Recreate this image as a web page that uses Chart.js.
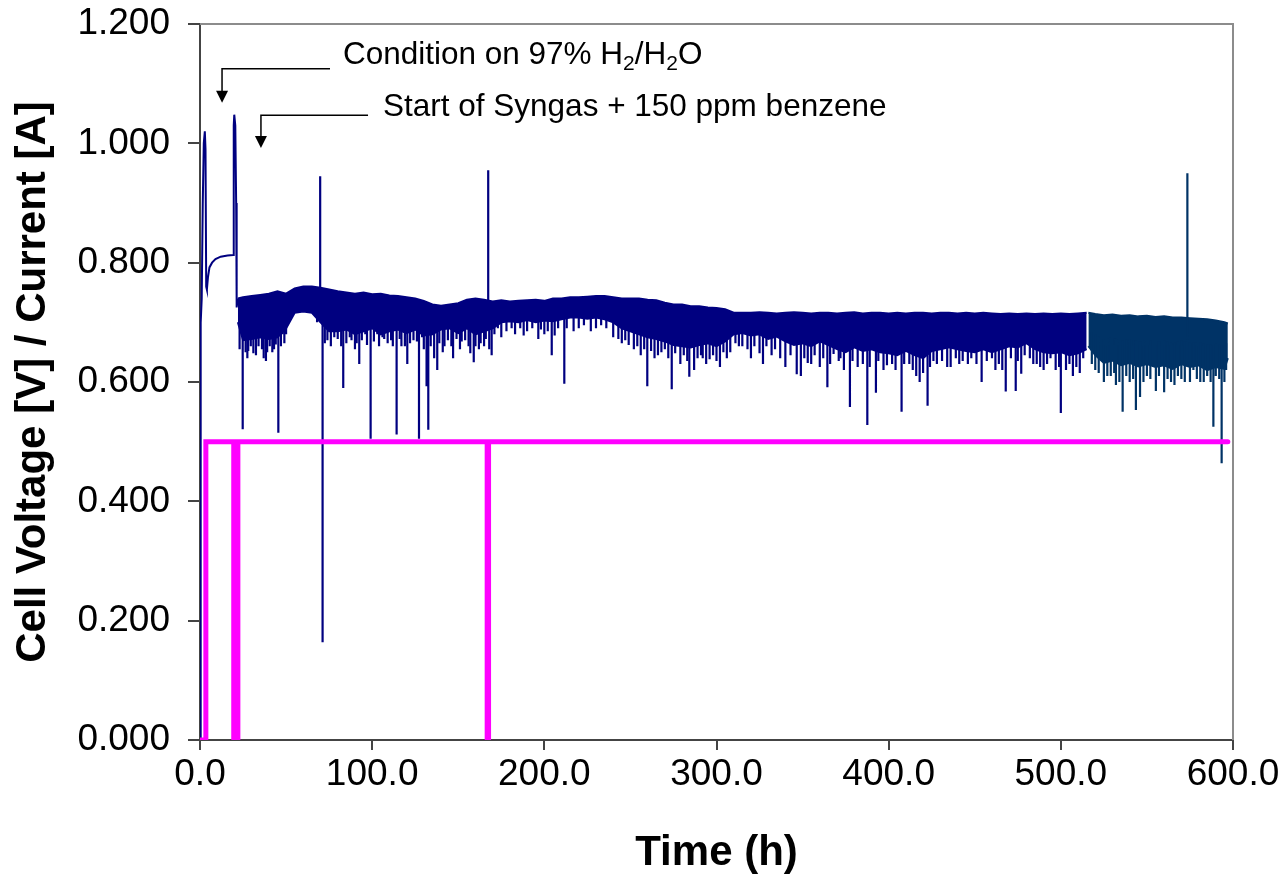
<!DOCTYPE html>
<html>
<head>
<meta charset="utf-8">
<script src="https://cdn.jsdelivr.net/npm/chart.js@4.4.0/dist/chart.umd.min.js"></script>
<style>
  html, body { margin: 0; padding: 0; background: #fff; }
</style>
</head>
<body>
<canvas id="chartVolt" width="1285" height="874"></canvas>
<script>
// current (A)
const currentT = [0, 3.4, 3.4, 19.6, 19.6, 22.0, 22.0, 166.8, 166.8, 167.6, 167.6, 597];
const currentA = [0, 0, 0.5, 0.5, 0, 0, 0.5, 0.5, 0, 0, 0.5, 0.5];

// start-up voltage before the noisy band
const earlyT = [0.1, 0.4, 1.0, 1.6, 2.2, 2.8, 3.2, 3.6, 4.0, 4.6, 5.5, 7.0, 9.0, 12.0, 16.0, 19.3, 19.6, 19.9, 20.5, 21.0, 21.3, 22.0];
const earlyV = [0.0, 0.70, 0.74, 0.90, 1.00, 1.02, 0.99, 0.76, 0.755, 0.775, 0.792, 0.800, 0.806, 0.810, 0.812, 0.813, 1.030, 1.048, 1.030, 0.900, 0.725, 0.740];

// voltage band (upper / lower edge), first logger file
const bandT = [22, 25, 30, 35, 40, 45, 50, 55, 60, 65,
  70, 75, 80, 85, 90, 95, 100, 105, 110, 115,
  120, 125, 130, 135, 140, 145, 150, 155, 160, 165,
  170, 175, 180, 185, 190, 195, 200, 205, 210, 215,
  220, 225, 230, 235, 240, 245, 250, 255, 260, 265,
  270, 275, 280, 285, 290, 295, 300, 305, 310, 315,
  320, 325, 330, 335, 340, 345, 350, 355, 360, 365,
  370, 375, 380, 385, 390, 395, 400, 405, 410, 415,
  420, 425, 430, 435, 440, 445, 450, 455, 460, 465,
  470, 475, 480, 485, 490, 495, 500, 505, 510, 515];
const bandUpper = [0.740, 0.742, 0.744, 0.746, 0.748, 0.752, 0.748, 0.757, 0.760, 0.760,
  0.758, 0.755, 0.752, 0.750, 0.748, 0.750, 0.747, 0.748, 0.745, 0.744,
  0.742, 0.740, 0.736, 0.730, 0.728, 0.730, 0.732, 0.738, 0.740, 0.738,
  0.735, 0.737, 0.735, 0.736, 0.737, 0.738, 0.736, 0.740, 0.740, 0.742,
  0.742, 0.743, 0.744, 0.744, 0.742, 0.740, 0.740, 0.740, 0.738, 0.737,
  0.733, 0.730, 0.730, 0.727, 0.727, 0.725, 0.724, 0.722, 0.716, 0.716,
  0.716, 0.717, 0.716, 0.715, 0.716, 0.717, 0.716, 0.715, 0.716, 0.716,
  0.715, 0.716, 0.717, 0.715, 0.716, 0.716, 0.715, 0.716, 0.715, 0.716,
  0.716, 0.715, 0.716, 0.716, 0.715, 0.716, 0.715, 0.716, 0.715, 0.714,
  0.715, 0.714, 0.715, 0.714, 0.715, 0.714, 0.715, 0.714, 0.715, 0.716];
const bandLower = [0.700, 0.670, 0.672, 0.675, 0.672, 0.675, 0.690, 0.716, 0.718, 0.716,
  0.700, 0.685, 0.685, 0.688, 0.680, 0.685, 0.690, 0.680, 0.685, 0.688,
  0.682, 0.688, 0.678, 0.680, 0.688, 0.690, 0.682, 0.690, 0.680, 0.685,
  0.690, 0.700, 0.702, 0.700, 0.704, 0.700, 0.703, 0.702, 0.705, 0.708,
  0.708, 0.706, 0.708, 0.705, 0.700, 0.690, 0.685, 0.680, 0.675, 0.672,
  0.668, 0.662, 0.660, 0.658, 0.662, 0.665, 0.660, 0.668, 0.680, 0.682,
  0.678, 0.680, 0.672, 0.676, 0.668, 0.662, 0.665, 0.660, 0.668, 0.662,
  0.655, 0.650, 0.658, 0.652, 0.655, 0.650, 0.648, 0.645, 0.652, 0.645,
  0.640, 0.652, 0.655, 0.658, 0.655, 0.652, 0.650, 0.655, 0.650, 0.655,
  0.660, 0.658, 0.665, 0.655, 0.650, 0.648, 0.650, 0.645, 0.648, 0.655];

// spikes leaving the band, first file
const spikeT = [24.8, 26.5, 28.0, 31, 34, 38.3, 40.5, 43, 45.5, 48, 50, 68, 69.8, 71.2, 74, 78, 83.2, 88, 91, 92.5,
  96, 99.1, 103, 107, 111, 114.2, 117, 120.4, 124, 127.2, 129, 131.6, 132.6, 136, 137.8, 142, 147, 152, 156, 159,
  162, 165, 167.4, 169.4, 175, 183, 190, 196.5, 200, 204.3, 208, 211.6, 220, 230, 240, 247, 252, 256, 259.8, 264,
  268, 274, 279, 284.2, 287, 292, 296, 302, 308, 315, 320, 327, 332, 340, 346.6, 349, 355, 360, 364.4, 368,
  372, 377.5, 382, 387.6, 392.6, 397, 402, 407.5, 412, 418, 422.6, 428, 436, 441, 448, 454, 460, 466, 468, 473.8,
  477, 482, 486, 490, 494, 500, 503, 507, 511];
const spikeV = [0.521, 0.650, 0.652, 0.648, 0.660, 0.635, 0.660, 0.655, 0.515, 0.680, 0.680, 0.700, 0.945, 0.164, 0.670, 0.675, 0.590, 0.670, 0.665, 0.630,
  0.680, 0.505, 0.680, 0.672, 0.670, 0.512, 0.660, 0.630, 0.670, 0.505, 0.675, 0.593, 0.520, 0.640, 0.620, 0.660, 0.640, 0.668, 0.660, 0.633,
  0.655, 0.660, 0.955, 0.645, 0.675, 0.680, 0.685, 0.672, 0.680, 0.645, 0.690, 0.597, 0.690, 0.690, 0.675, 0.670, 0.655, 0.645, 0.593, 0.640,
  0.650, 0.588, 0.630, 0.609, 0.620, 0.640, 0.638, 0.625, 0.650, 0.660, 0.640, 0.630, 0.645, 0.625, 0.613, 0.610, 0.630, 0.625, 0.591, 0.647,
  0.640, 0.558, 0.625, 0.528, 0.582, 0.620, 0.630, 0.550, 0.630, 0.600, 0.560, 0.630, 0.625, 0.630, 0.640, 0.600, 0.640, 0.620, 0.584, 0.585,
  0.614, 0.640, 0.630, 0.620, 0.640, 0.548, 0.620, 0.610, 0.615];

// short dips that roughen the lower edge, first file
const dipT = [23, 27.5, 29.5, 32.5, 36, 37, 39, 42, 44, 47, 49,
  72.5, 76, 80, 82, 85, 87, 90, 94, 97, 101, 104, 106, 109, 112, 116, 119, 122, 126, 130, 134,
  139, 141, 144, 146, 149, 151, 154, 157, 160, 163, 166, 168, 171,
  173, 178, 181, 186, 188, 193, 198, 202, 206, 213, 217, 223, 227, 233, 236, 243,
  245, 249, 254, 258, 262, 266, 270, 272, 276, 281, 283, 289, 291, 294, 298, 300, 304, 306,
  311, 313, 318, 322, 325, 329, 334, 337, 343, 351, 353, 357, 362, 366, 371, 374, 379, 385, 389, 394,
  399, 404, 409, 414, 416, 420, 424, 426, 431, 434, 439, 443, 446, 451, 457, 462, 464, 471, 475, 479,
  484, 488, 492, 497, 499, 505, 509, 513];
const dipV = [0.655, 0.640, 0.660, 0.645, 0.655, 0.640, 0.650, 0.650, 0.663, 0.660, 0.665,
  0.665, 0.660, 0.672, 0.660, 0.665, 0.675, 0.655, 0.670, 0.662, 0.668, 0.660, 0.675, 0.665, 0.660, 0.672, 0.660, 0.665, 0.668, 0.655, 0.660,
  0.665, 0.650, 0.670, 0.660, 0.672, 0.655, 0.670, 0.648, 0.660, 0.665, 0.672, 0.655, 0.680,
  0.690, 0.685, 0.690, 0.690, 0.678, 0.690, 0.688, 0.685, 0.678, 0.690, 0.685, 0.695, 0.685, 0.695, 0.690, 0.672,
  0.665, 0.662, 0.660, 0.655, 0.652, 0.645, 0.655, 0.640, 0.648, 0.645, 0.635, 0.640, 0.645, 0.630, 0.645, 0.635, 0.650, 0.640,
  0.665, 0.660, 0.655, 0.660, 0.648, 0.660, 0.655, 0.640, 0.645, 0.640, 0.632, 0.645, 0.640, 0.630, 0.635, 0.620, 0.635, 0.630, 0.625, 0.635,
  0.628, 0.620, 0.630, 0.620, 0.610, 0.615, 0.625, 0.635, 0.635, 0.625, 0.640, 0.635, 0.630, 0.630, 0.635, 0.620, 0.630, 0.640, 0.635, 0.645,
  0.630, 0.625, 0.630, 0.620, 0.625, 0.630, 0.625, 0.640];

// second logger file
const bandT2 = [516, 520, 525, 530, 535, 540, 545, 550, 555, 560, 565, 570, 575, 580, 585, 590, 595, 597];
const bandUpper2 = [0.716, 0.714, 0.712, 0.713, 0.711, 0.712, 0.710, 0.711, 0.709, 0.710, 0.708, 0.708, 0.707, 0.706, 0.705, 0.703, 0.700, 0.698];
const bandLower2 = [0.660, 0.645, 0.632, 0.636, 0.628, 0.632, 0.626, 0.630, 0.625, 0.628, 0.622, 0.630, 0.625, 0.628, 0.620, 0.625, 0.622, 0.640];
const spikeT2 = [520, 525, 529, 532, 535.9, 540, 543.6, 546, 550, 555.2, 560, 564, 568, 572, 573.5, 577, 581, 585, 588.6, 590, 593.4, 596];
const spikeV2 = [0.620, 0.600, 0.610, 0.595, 0.550, 0.600, 0.553, 0.575, 0.610, 0.585, 0.583, 0.600, 0.610, 0.600, 0.950, 0.620, 0.600, 0.610, 0.525, 0.610, 0.464, 0.620];
const dipT2 = [518, 522, 527, 531, 534, 538, 542, 548, 552, 557, 562, 566, 570, 575, 579, 583, 587, 592, 595];
const dipV2 = [0.630, 0.615, 0.610, 0.615, 0.600, 0.610, 0.605, 0.600, 0.605, 0.610, 0.605, 0.595, 0.605, 0.600, 0.605, 0.600, 0.600, 0.605, 0.600];

const xTicks = ['0.0', '100.0', '200.0', '300.0', '400.0', '500.0', '600.0'];
const yTicks = ['0.000', '0.200', '0.400', '0.600', '0.800', '1.000', '1.200'];

const FONT = "'Liberation Sans', Arial, Helvetica, sans-serif";
const NAVY = '#000080';
const DARK = '#003366';

function pts(ts, vs) {
  return ts.map((t, i) => ({x: t, y: vs[i]}));
}

function interp(ts, vs, t) {
  if (t <= ts[0]) return vs[0];
  for (let i = 1; i < ts.length; i++) {
    if (t <= ts[i]) {
      const f = (t - ts[i - 1]) / (ts[i] - ts[i - 1]);
      return vs[i - 1] + f * (vs[i] - vs[i - 1]);
    }
  }
  return vs[vs.length - 1];
}

// each spike: vertical stroke from the middle of the band to the spike value
function spikes(ts, vs, bt, up, lo) {
  const out = [];
  ts.forEach((t, i) => {
    const base = (interp(bt, up, t) + interp(bt, lo, t)) / 2;
    out.push({x: t, y: base}, {x: t, y: vs[i]}, {x: t, y: null});
  });
  return out;
}

function lineSet(data, color, width, extra) {
  return Object.assign({
    data: data,
    borderColor: color,
    backgroundColor: color,
    borderWidth: width,
    pointRadius: 0,
    tension: 0,
    fill: false,
    spanGaps: false
  }, extra || {});
}

// arrows + notes, positioned in data units
const notes = [
  {parts: [['Condition on 97% H'], ['2', true], ['/H'], ['2', true], ['O']],
    tipT: 12.8, tipV: 1.068, elbowV: 1.125, endT: 75.5, textT: 83, textV: 1.148},
  {parts: [['Start of Syngas + 150 ppm benzene']],
    tipT: 35.4, tipV: 0.992, elbowV: 1.047, endT: 97.6, textT: 106.3, textV: 1.061}
];

const notePlugin = {
  id: 'notes',
  afterDraw(chart) {
    const {ctx, chartArea: a} = chart;
    const sx = chart.scales.x, sy = chart.scales.y;

    // plot frame, top and right
    ctx.save();
    ctx.strokeStyle = '#8c8c8c';
    ctx.lineWidth = 2;
    ctx.beginPath();
    ctx.moveTo(a.left, a.top);
    ctx.lineTo(a.right, a.top);
    ctx.lineTo(a.right, a.bottom);
    ctx.stroke();

    ctx.strokeStyle = '#000';
    ctx.fillStyle = '#000';
    ctx.lineWidth = 1.5;
    notes.forEach(n => {
      const tx = sx.getPixelForValue(n.tipT);
      const ty = sy.getPixelForValue(n.tipV);
      const ey = sy.getPixelForValue(n.elbowV);
      const ex = sx.getPixelForValue(n.endT);
      ctx.beginPath();
      ctx.moveTo(ex, ey);
      ctx.lineTo(tx, ey);
      ctx.lineTo(tx, ty - 10);
      ctx.stroke();
      ctx.beginPath();
      ctx.moveTo(tx - 6, ty - 12);
      ctx.lineTo(tx + 6, ty - 12);
      ctx.lineTo(tx, ty);
      ctx.closePath();
      ctx.fill();

      let x = sx.getPixelForValue(n.textT);
      const y = sy.getPixelForValue(n.textV);
      ctx.textBaseline = 'middle';
      ctx.textAlign = 'left';
      n.parts.forEach(p => {
        if (p[1]) {
          ctx.font = '21px ' + FONT;
          ctx.fillText(p[0], x, y + 9);
        } else {
          ctx.font = '31.5px ' + FONT;
          ctx.fillText(p[0], x, y);
        }
        x += ctx.measureText(p[0]).width;
      });
    });
    ctx.restore();
  }
};

new Chart(document.getElementById('chartVolt'), {
  type: 'line',
  data: {
    datasets: [
      lineSet(pts(currentT, currentA), '#FF00FF', 5, {borderCapStyle: 'round'}),
      lineSet(pts(earlyT, earlyV), NAVY, 2),
      lineSet(spikes(spikeT, spikeV, bandT, bandUpper, bandLower), NAVY, 2.2),
      lineSet(spikes(dipT, dipV, bandT, bandUpper, bandLower), NAVY, 2.2),
      lineSet(pts(bandT, bandUpper), NAVY, 2),
      lineSet(pts(bandT, bandLower), NAVY, 2, {fill: '-1'}),
      lineSet(spikes(spikeT2, spikeV2, bandT2, bandUpper2, bandLower2), DARK, 2.2),
      lineSet(spikes(dipT2, dipV2, bandT2, bandUpper2, bandLower2), DARK, 2.2),
      lineSet(pts(bandT2, bandUpper2), DARK, 2),
      lineSet(pts(bandT2, bandLower2), DARK, 2, {fill: '-1'})
    ]
  },
  options: {
    responsive: false,
    animation: false,
    devicePixelRatio: 1,
    layout: {padding: {top: 24, right: 52, left: 0, bottom: 0}},
    plugins: {
      legend: {display: false},
      tooltip: {enabled: false}
    },
    scales: {
      x: {
        type: 'linear',
        min: 0,
        max: 600,
        afterFit(scale) {
          scale.height = 134;
          scale.paddingLeft = 0;
          scale.paddingRight = 0;
        },
        ticks: {
          stepSize: 100,
          color: '#000',
          padding: 3,
          maxRotation: 0,
          font: {family: FONT, size: 37},
          callback: (v) => xTicks[Math.round(v / 100)]
        },
        grid: {drawOnChartArea: false, tickLength: 10, color: '#444', lineWidth: 2},
        border: {color: '#444', width: 2},
        title: {
          display: true,
          text: 'Time (h)',
          color: '#000',
          font: {family: FONT, size: 42, weight: 'bold', lineHeight: 1},
          padding: {top: 0, bottom: 0}
        }
      },
      y: {
        min: 0,
        max: 1.2,
        afterFit(scale) {
          scale.width = 200;
          scale.paddingTop = 0;
          scale.paddingBottom = 0;
        },
        ticks: {
          stepSize: 0.2,
          color: '#000',
          padding: 18,
          font: {family: FONT, size: 37},
          callback: (v) => yTicks[Math.round(v / 0.2)]
        },
        grid: {drawOnChartArea: false, tickLength: 12, color: '#444', lineWidth: 2},
        border: {color: '#444', width: 2},
        title: {
          display: true,
          text: 'Cell Voltage [V] / Current [A]',
          color: '#000',
          font: {family: FONT, size: 42, weight: 'bold', lineHeight: 1.2},
          padding: {top: 8, bottom: 0}
        }
      }
    }
  },
  plugins: [notePlugin]
});
</script>
</body>
</html>
